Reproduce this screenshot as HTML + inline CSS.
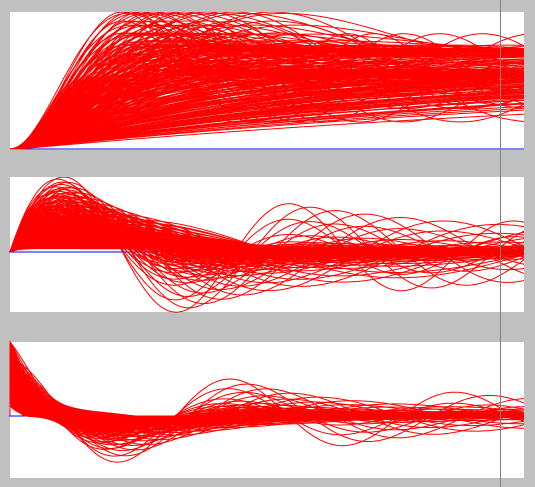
<!DOCTYPE html>
<html><head><meta charset="utf-8">
<style>
html,body{margin:0;padding:0;background:#c0c0c0;}
svg{display:block;}
</style></head>
<body>
<svg id="chart" width="535" height="487" viewBox="0 0 535 487">
  <rect x="0" y="0" width="535" height="487" fill="#c0c0c0"/>
  <defs>
    <clipPath id="c1"><rect x="10" y="12" width="514" height="138"/></clipPath>
    <clipPath id="c2"><rect x="9" y="177" width="515" height="136"/></clipPath>
    <clipPath id="c3"><rect x="9" y="341" width="515" height="137"/></clipPath>
  </defs>
  <rect x="10" y="12" width="514" height="138" fill="#fff"/>
  <rect x="10" y="177" width="514" height="135" fill="#fff"/>
  <rect x="10" y="342" width="514" height="136" fill="#fff"/>
  <g id="g1" clip-path="url(#c1)"></g>
  <g id="g2" clip-path="url(#c2)"></g>
  <g id="g3" clip-path="url(#c3)"></g>
  <line x1="500.5" y1="0" x2="500.5" y2="487" stroke="#808080" stroke-width="1"/>
</svg>
<script>
const omegas = [0.012,0.014,0.016,0.018,0.020,0.022,0.024,0.026,0.028];
const zetas = [0.07,0.12,0.2,0.3,0.4,0.5,0.6,0.7,0.8,0.9,1.2,1.6,2.2,3.0,4.0,5.0];
const gains = [1.0, 1.3];
const highGainMinZeta = 0.3;
const tMax = 514;

const NS = 'http://www.w3.org/2000/svg';
function resp(w, z, t) {
  if (z < 1) {
    const s = Math.sqrt(1 - z*z), wd = w*s, e = Math.exp(-z*w*t);
    const y = 1 - e*(Math.cos(wd*t) + (z/s)*Math.sin(wd*t));
    const v = (w/s)*e*Math.sin(wd*t);
    const a = (w/s)*e*(wd*Math.cos(wd*t) - z*w*Math.sin(wd*t));
    return [y, v, a];
  }
  const q = Math.sqrt(z*z - 1);
  const r1 = -w*(z - q), r2 = -w*(z + q);
  const e1 = Math.exp(r1*t), e2 = Math.exp(r2*t), d = r1 - r2;
  const y = 1 + (r2*e1 - r1*e2)/d;
  const v = r1*r2*(e1 - e2)/d;
  const a = r1*r2*(r1*e1 - r2*e2)/d;
  return [y, v, a];
}
const curves = [];
for (const gn of gains) for (const w of omegas) for (const z of zetas) {
  if (gn > 1 && z < highGainMinZeta) continue;
  const pts = [[],[],[]];
  for (let t = 0; t <= tMax; t += 2) {
    const r = resp(w, z, t);
    for (let k = 0; k < 3; k++) pts[k].push([t, gn*r[k]]);
  }
  curves.push(pts);
}
const panels = [
  {g:'g1', top:12, zero:149, name:'step-curve', base:'step-baseline'},
  {g:'g2', top:177, zero:252, name:'velocity-curve', base:'velocity-baseline'},
  {g:'g3', top:342, zero:416, name:'acceleration-curve', base:'acceleration-baseline'}
];
function xScale(t) { return 10 + t; }
panels.forEach((p, k) => {
  let mx = 0;
  curves.forEach(c => c[k].forEach(q => { mx = Math.max(mx, q[1]); }));
  const yScale = v => p.zero - v / mx * (p.zero - p.top);
  const g = document.getElementById(p.g);
  const bl = document.createElementNS(NS, 'line');
  bl.setAttribute('x1', 9); bl.setAttribute('x2', 524);
  bl.setAttribute('y1', yScale(0)); bl.setAttribute('y2', yScale(0));
  bl.setAttribute('stroke', '#0000ff');
  
  
  g.appendChild(bl);
  curves.forEach(c => {
    const pl = document.createElementNS(NS, 'polyline');
    let d = (k === 2 ? xScale(0) + ',' + yScale(0) + ' ' : '');
    d += c[k].map(q => xScale(q[0]).toFixed(1) + ',' + yScale(q[1]).toFixed(1)).join(' ');
    pl.setAttribute('points', d);
    pl.setAttribute('fill', 'none');
    pl.setAttribute('stroke', '#ff0000');
    pl.setAttribute('stroke-width', '1');
    
    
    g.appendChild(pl);
  });
});
</script>
</body></html>
